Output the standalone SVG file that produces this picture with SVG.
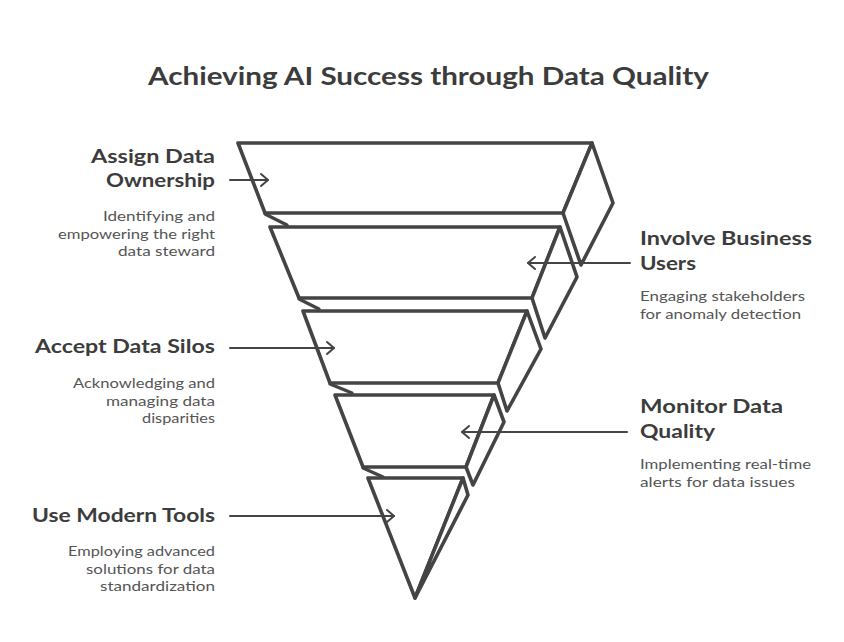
<svg xmlns="http://www.w3.org/2000/svg" width="844" height="642" viewBox="0 0 844 642">
<defs>
<style>
.slab{fill:#fff;stroke:#444;stroke-width:3.6;stroke-linejoin:round;stroke-linecap:round}
.notch{fill:none;stroke:#444;stroke-width:3.2;stroke-linecap:round}
.conn{fill:none;stroke:#444;stroke-width:2;stroke-linecap:round}
.head{font-family:"Lato","Noto Sans",sans-serif;font-weight:bold;font-size:19px;fill:#3c3c3c}
.desc{font-family:"Lato","Noto Sans",sans-serif;font-size:14px;fill:#555}
.title{font-family:"Lato","Noto Sans",sans-serif;font-weight:bold;font-size:24px;fill:#3c3c3c}
</style>
<marker id="arr" markerUnits="userSpaceOnUse" markerWidth="12" markerHeight="16" refX="9" refY="8" orient="auto">
<path d="M2,2 L9,8 L2,14" fill="none" stroke="#444" stroke-width="2" stroke-linecap="round" stroke-linejoin="round"/>
</marker>
</defs>
<rect width="844" height="642" fill="#fff"/>
<text class="title" x="148" y="85" textLength="561" lengthAdjust="spacingAndGlyphs">Achieving AI Success through Data Quality</text>

<g id="funnel-1">
<polygon class="slab" points="238,143 592,143 563,213 265,213"/>
<polygon class="slab" points="592,143 613,203 581,265 563,213"/>
<path class="notch" d="M265,214 L287,225"/>
</g>
<g id="funnel-2">
<polygon class="slab" points="270,227 560,227 532,298 299,298"/>
<polygon class="slab" points="560,227 577,277 545,338 532,298"/>
<path class="notch" d="M299,299 L319,309"/>
</g>
<g id="funnel-3">
<polygon class="slab" points="303,311 527,311 498,383 330,383"/>
<polygon class="slab" points="527,311 541,349 507,411 498,383"/>
<path class="notch" d="M330,384 L352,393"/>
</g>
<g id="funnel-4">
<polygon class="slab" points="335,395 494,395 466,467 363,467"/>
<polygon class="slab" points="494,395 504,422 473,485 466,467"/>
<path class="notch" d="M363,468 L383,477"/>
</g>
<g id="funnel-5">
<polygon class="slab" points="368,478 463,478 415,598"/>
<polygon class="slab" points="463,478 468,495 415,598"/>
</g>

<g id="connectors">
<path class="conn" d="M230,180 L268,180" marker-end="url(#arr)"/>
<path class="conn" d="M630,263 L528,263" marker-end="url(#arr)"/>
<path class="conn" d="M230,348 L334,348" marker-end="url(#arr)"/>
<path class="conn" d="M627,432 L462,432" marker-end="url(#arr)"/>
<path class="conn" d="M230,516 L394,516" marker-end="url(#arr)"/>
</g>

<g id="label-assign">
<text class="head" x="91" y="163" textLength="124" lengthAdjust="spacingAndGlyphs">Assign Data</text>
<text class="head" x="106" y="187" textLength="109" lengthAdjust="spacingAndGlyphs">Ownership</text>
<text class="desc" x="103" y="221" textLength="112" lengthAdjust="spacingAndGlyphs">Identifying and</text>
<text class="desc" x="58" y="239" textLength="157" lengthAdjust="spacingAndGlyphs">empowering the right</text>
<text class="desc" x="118" y="256" textLength="97" lengthAdjust="spacingAndGlyphs">data steward</text>
</g>
<g id="label-involve">
<text class="head" x="640" y="245" textLength="172" lengthAdjust="spacingAndGlyphs">Involve Business</text>
<text class="head" x="640" y="270" textLength="56" lengthAdjust="spacingAndGlyphs">Users</text>
<text class="desc" x="640" y="301" textLength="165" lengthAdjust="spacingAndGlyphs">Engaging stakeholders</text>
<text class="desc" x="640" y="319" textLength="161" lengthAdjust="spacingAndGlyphs">for anomaly detection</text>
</g>
<g id="label-accept">
<text class="head" x="35" y="353" textLength="180" lengthAdjust="spacingAndGlyphs">Accept Data Silos</text>
<text class="desc" x="73" y="388" textLength="142" lengthAdjust="spacingAndGlyphs">Acknowledging and</text>
<text class="desc" x="106" y="406" textLength="109" lengthAdjust="spacingAndGlyphs">managing data</text>
<text class="desc" x="142" y="423" textLength="73" lengthAdjust="spacingAndGlyphs">disparities</text>
</g>
<g id="label-monitor">
<text class="head" x="640" y="413" textLength="143" lengthAdjust="spacingAndGlyphs">Monitor Data</text>
<text class="head" x="640" y="438" textLength="75" lengthAdjust="spacingAndGlyphs">Quality</text>
<text class="desc" x="640" y="469" textLength="171" lengthAdjust="spacingAndGlyphs">Implementing real-time</text>
<text class="desc" x="640" y="487" textLength="155" lengthAdjust="spacingAndGlyphs">alerts for data issues</text>
</g>
<g id="label-tools">
<text class="head" x="32" y="522" textLength="183" lengthAdjust="spacingAndGlyphs">Use Modern Tools</text>
<text class="desc" x="68" y="556" textLength="147" lengthAdjust="spacingAndGlyphs">Employing advanced</text>
<text class="desc" x="86" y="574" textLength="129" lengthAdjust="spacingAndGlyphs">solutions for data</text>
<text class="desc" x="100" y="591" textLength="115" lengthAdjust="spacingAndGlyphs">standardization</text>
</g>
</svg>
